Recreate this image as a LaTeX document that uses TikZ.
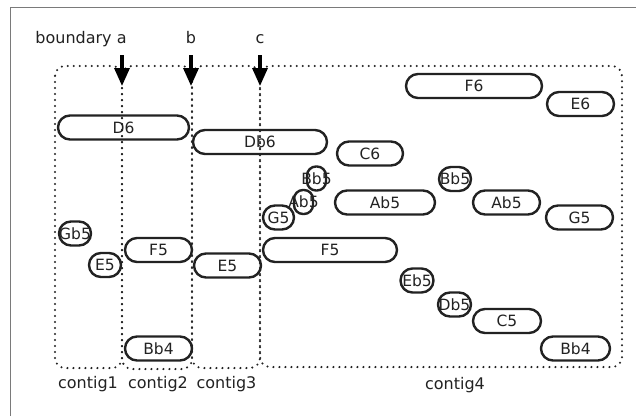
\documentclass[tikz,border=0pt]{standalone}
\usepackage{fontspec}
\setmainfont{DejaVu Sans}
\usetikzlibrary{arrows.meta}
\definecolor{ink}{HTML}{222222}
\definecolor{framegray}{HTML}{7A7A7A}
\begin{document}
\begin{tikzpicture}[x=1pt,y=-1pt,
  pill/.style={draw=ink, line width=2.4pt, rounded corners=12pt, minimum height=24pt, inner sep=0pt, outer sep=0pt},
  smallpill/.style={pill, rounded corners=9pt},
  lbl/.style={font=\fontsize{15.5}{18}\selectfont, text=ink, inner sep=0pt},
  toplbl/.style={font=\fontsize{16}{19}\selectfont, text=ink, anchor=base, inner sep=0pt},
  contig/.style={draw=ink, line width=2.3pt, dash pattern=on 0pt off 6pt, line cap=round, rounded corners=10pt},
  bnd/.style={draw=black, line width=3.3pt, -{Triangle[length=18pt,width=15pt]}}
]
\useasboundingbox (0,0) rectangle (636,416);
\fill[white] (0,0) rectangle (636,416);
\draw[framegray, line width=1pt] (10,416) -- (10,7.5) -- (636,7.5);

% contig boxes
\draw[contig] (55,66) rectangle (122,368);
\draw[contig] (122,66) rectangle (192,369);
\draw[contig] (192,66) rectangle (260,368);
\draw[contig] (260,66) rectangle (622,367);

% boundary labels and arrows
\node[toplbl] (la) at (81,43) {boundary a};
\node[toplbl] (lb) at (191,43) {b};
\node[toplbl] (lc) at (260,43) {c};
\coordinate (a1) at (122,55); \coordinate (a2) at (122,86);
\coordinate (b1) at (191,55); \coordinate (b2) at (191,86);
\coordinate (c1) at (260,55); \coordinate (c2) at (260,86);
\draw[bnd] (a1) -- (a2);
\draw[bnd] (b1) -- (b2);
\draw[bnd] (c1) -- (c2);

% contig labels
\node[toplbl] (k1) at (88,388) {contig1};
\node[toplbl] (k2) at (158,388) {contig2};
\node[toplbl] (k3) at (226.5,388) {contig3};
\node[toplbl] (k4) at (455,389) {contig4};

% pills
\node[pill, minimum width=131pt, label={[lbl]center:D6}] (D6) at (123.5,127.5) {};
\node[pill, minimum width=134pt, label={[lbl]center:Db6}] (Db6) at (260,142) {};
\node[pill, minimum width=136pt, label={[lbl]center:F6}] (F6) at (474,86) {};
\node[pill, minimum width=67pt, label={[lbl]center:E6}] (E6) at (580.5,104) {};
\node[pill, minimum width=66pt, label={[lbl]center:C6}] (C6) at (370,153.5) {};
\node[smallpill, minimum width=19pt, label={[lbl]center:Bb5}] (Bb5a) at (316.5,178.5) {};
\node[pill, minimum width=32pt, label={[lbl]center:Bb5}] (Bb5b) at (455,179) {};
\node[smallpill, minimum width=19pt, label={[lbl]center:Ab5}] (Ab5a) at (303.5,202) {};
\node[pill, minimum width=100pt, label={[lbl]center:Ab5}] (Ab5b) at (385,202.5) {};
\node[pill, minimum width=67pt, label={[lbl]center:Ab5}] (Ab5c) at (506.5,202.5) {};
\node[pill, minimum width=31pt, label={[lbl]center:G5}] (G5a) at (278.5,217.5) {};
\node[pill, minimum width=67pt, label={[lbl]center:G5}] (G5b) at (579.5,217.5) {};
\node[pill, minimum width=134pt, label={[lbl]center:F5}] (F5c) at (330,250) {};
\node[pill, minimum width=32pt, label={[lbl]center:Gb5}] (Gb5) at (75,233.5) {};
\node[pill, minimum width=32pt, label={[lbl]center:E5}] (E5a) at (105,265) {};
\node[pill, minimum width=67pt, label={[lbl]center:F5}] (F5b) at (158.5,250) {};
\node[pill, minimum width=67pt, label={[lbl]center:E5}] (E5b) at (227.5,265.5) {};
\node[pill, minimum width=67pt, label={[lbl]center:Bb4}] (Bb4a) at (158.5,348.5) {};
\node[pill, minimum width=33pt, label={[lbl]center:Eb5}] (Eb5) at (417,280.5) {};
\node[pill, minimum width=33pt, label={[lbl]center:Db5}] (Db5) at (454.5,304.5) {};
\node[pill, minimum width=68pt, label={[lbl]center:C5}] (C5) at (507,321) {};
\node[pill, minimum width=69pt, label={[lbl]center:Bb4}] (Bb4b) at (575.5,348.5) {};
\end{tikzpicture}
\end{document}
